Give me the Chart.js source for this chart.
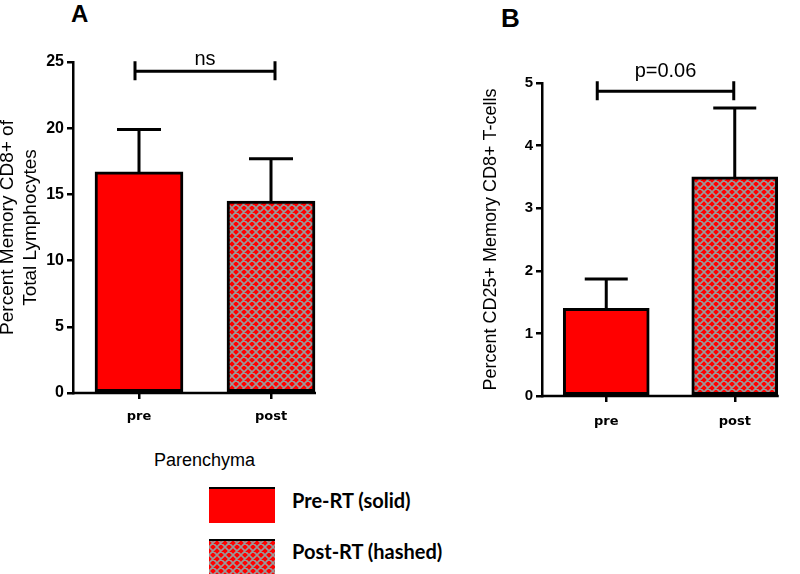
<!DOCTYPE html>
<html>
<head>
<meta charset="utf-8">
<script src="https://cdn.jsdelivr.net/npm/chart.js@4.4.1/dist/chart.umd.min.js"></script>
<style>
  body { margin: 0; background: #fff; width: 800px; height: 574px; overflow: hidden; position: relative; font-family: "Liberation Sans", Arial, sans-serif; color: #000; }
  .abs { position: absolute; line-height: 1; white-space: nowrap; }
  .panel { font-weight: bold; }
  .leg { font-family: Lato, "Open Sans", sans-serif; font-weight: bold; font-size: 20px; }
</style>
</head>
<body>
<div class="abs panel" style="left:71px;top:2px;font-size:24px">A</div>
<div class="abs panel" style="left:501px;top:5px;font-size:26px">B</div>

<canvas id="chartA" class="abs" style="left:0;top:0" width="345" height="440"></canvas>
<canvas id="chartB" class="abs" style="left:400px;top:0" width="400" height="440"></canvas>

<div class="abs" style="left:154px;top:451px;font-size:18px">Parenchyma</div>
<canvas id="swPre" class="abs" style="left:209px;top:487px" width="66" height="36"></canvas>
<canvas id="swPost" class="abs" style="left:209px;top:539px" width="66" height="36"></canvas>
<div class="abs leg" style="left:292px;top:490px">Pre-RT (solid)</div>
<div class="abs leg" style="left:292px;top:541px">Post-RT (hashed)</div>

<script>
// --- DATA ---
const categories = ['pre', 'post'];

// panel A: percent memory CD8+ of total lymphocytes
const memoryCD8 = [16.7, 14.5];
const memoryCD8Err = [3.2, 3.2];
const ticksA = [0, 5, 10, 15, 20, 25];
const bracketA = { label: 'ns', value: 24.3 };

// panel B: percent CD25+ memory CD8+ T-cells
const cd25Memory = [1.4, 3.5];
const cd25MemoryErr = [0.47, 1.1];
const ticksB = [0, 1, 2, 3, 4, 5];
const bracketB = { label: 'p=0.06', value: 4.87 };

const RED = '#ff0000';

// crosshatch fill for the post-RT bars
function makeHatch() {
    const c = document.createElement('canvas');
    c.width = 8; c.height = 8;
    const g = c.getContext('2d');
    g.fillStyle = RED;
    g.fillRect(0, 0, 8, 8);
    g.strokeStyle = '#999999';
    g.lineWidth = 1.6;
    g.beginPath();
    g.moveTo(-1, -1); g.lineTo(9, 9);
    g.moveTo(9, -1); g.lineTo(-1, 9);
    g.moveTo(-1, 1); g.lineTo(1, -1);
    g.moveTo(7, 9); g.lineTo(9, 7);
    g.moveTo(7, -1); g.lineTo(9, 1);
    g.moveTo(-1, 7); g.lineTo(1, 9);
    g.stroke();
    return g.createPattern(c, 'repeat');
}
const hatch = makeHatch();

// --- ERROR BARS, AXIS LINE, SIGNIFICANCE BRACKET ---
const errorBars = {
    id: 'errorBars',
    afterDatasetsDraw(chart, args, opts) {
        const { ctx, chartArea } = chart;
        const x = chart.scales.x, y = chart.scales.y;
        const meta = chart.getDatasetMeta(0);
        const vals = chart.data.datasets[0].data;
        ctx.save();
        ctx.strokeStyle = '#000';
        ctx.lineWidth = 3;

        meta.data.forEach((bar, i) => {
            const top = y.getPixelForValue(vals[i] + opts.err[i]);
            const half = bar.width / 4;
            ctx.beginPath();
            ctx.moveTo(bar.x, bar.y);
            ctx.lineTo(bar.x, top);
            ctx.moveTo(bar.x - half, top);
            ctx.lineTo(bar.x + half, top);
            ctx.stroke();
        });

        // x axis stops at the right edge of the last bar
        const last = meta.data[meta.data.length - 1];
        ctx.lineWidth = 2.5;
        ctx.beginPath();
        ctx.moveTo(chartArea.left - 1, chartArea.bottom);
        ctx.lineTo(last.x + last.width / 2 + 1, chartArea.bottom);
        ctx.stroke();

        // bracket
        const b = opts.bracket;
        const by = y.getPixelForValue(b.value);
        const x0 = x.getPixelForValue(0) + opts.bracketDx[0];
        const x1 = x.getPixelForValue(1) + opts.bracketDx[1];
        ctx.lineWidth = 3;
        ctx.beginPath();
        ctx.moveTo(x0, by); ctx.lineTo(x1, by);
        ctx.moveTo(x0, by - 10); ctx.lineTo(x0, by + 9);
        ctx.moveTo(x1, by - 10); ctx.lineTo(x1, by + 9);
        ctx.stroke();
        ctx.fillStyle = '#000';
        ctx.font = '20px "Liberation Sans", Arial, sans-serif';
        ctx.textAlign = 'center';
        ctx.textBaseline = 'alphabetic';
        ctx.fillText(b.label, (x0 + x1) / 2, by - opts.labelGap);
        ctx.restore();
    }
};

function makeChart(id, values, errs, yTicks, bracket, cfg) {
    return new Chart(document.getElementById(id), {
        type: 'bar',
        data: {
            labels: categories,
            datasets: [{
                data: values,
                backgroundColor: [RED, hatch],
                borderColor: '#000',
                borderWidth: 3,
                borderSkipped: false,
                barThickness: cfg.bar
            }]
        },
        options: {
            responsive: false,
            animation: false,
            devicePixelRatio: 1,
            layout: { padding: { top: cfg.top, left: cfg.left, right: cfg.right, bottom: 0 } },
            plugins: {
                legend: { display: false },
                tooltip: { enabled: false },
                errorBars: { err: errs, bracket: bracket, bracketDx: cfg.bracketDx, labelGap: cfg.labelGap }
            },
            scales: {
                x: {
                    grid: { offset: false, drawOnChartArea: false, color: '#000', lineWidth: 2.5, tickLength: 6 },
                    border: { display: false },
                    ticks: { color: '#000', padding: cfg.xPad, font: { family: 'DejaVu Sans', weight: 'bold', size: 13 } },
                    afterFit(s) { s.height = cfg.xh; }
                },
                y: {
                    min: yTicks[0],
                    max: yTicks[yTicks.length - 1],
                    ticks: { stepSize: yTicks[1] - yTicks[0], color: '#000', padding: 3,
                             font: { family: 'Liberation Sans', weight: 'bold', size: cfg.tickSize } },
                    grid: { drawOnChartArea: false, color: '#000', lineWidth: 2.5, tickLength: 6 },
                    border: { display: true, color: '#000', width: 2.5 },
                    title: {
                        display: true, text: cfg.title, color: '#000',
                        font: { family: 'Liberation Sans', size: cfg.titleSize, lineHeight: 1.18 },
                        padding: { top: cfg.titlePad, bottom: 0 }
                    },
                    afterFit(s) { s.width = cfg.yw; }
                }
            }
        },
        plugins: [errorBars]
    });
}

makeChart('chartA', memoryCD8, memoryCD8Err, ticksA, bracketA, {
    bar: 88, top: 62, left: 0, right: 8, yw: 73, xh: 47, tickSize: 16, xPad: 10,
    title: ['Percent Memory CD8+ of', 'Total Lymphocytes'], titleSize: 19, titlePad: -3,
    bracketDx: [-4, 4], labelGap: 6
});

makeChart('chartB', cd25Memory, cd25MemoryErr, ticksB, bracketB, {
    bar: 86, top: 83, left: 80, right: 1, yw: 62, xh: 44, tickSize: 15, xPad: 12,
    title: 'Percent CD25+ Memory CD8+ T-cells', titleSize: 18, titlePad: 0,
    bracketDx: [-9, -1], labelGap: 14
});

// legend swatches
function swatch(id, fill) {
    const g = document.getElementById(id).getContext('2d');
    g.fillStyle = fill;
    g.fillRect(0, 0, 66, 36);
    g.fillStyle = '#000';
    g.fillRect(0, 0, 66, 2);
}
swatch('swPre', RED);
swatch('swPost', hatch);
</script>
</body>
</html>
